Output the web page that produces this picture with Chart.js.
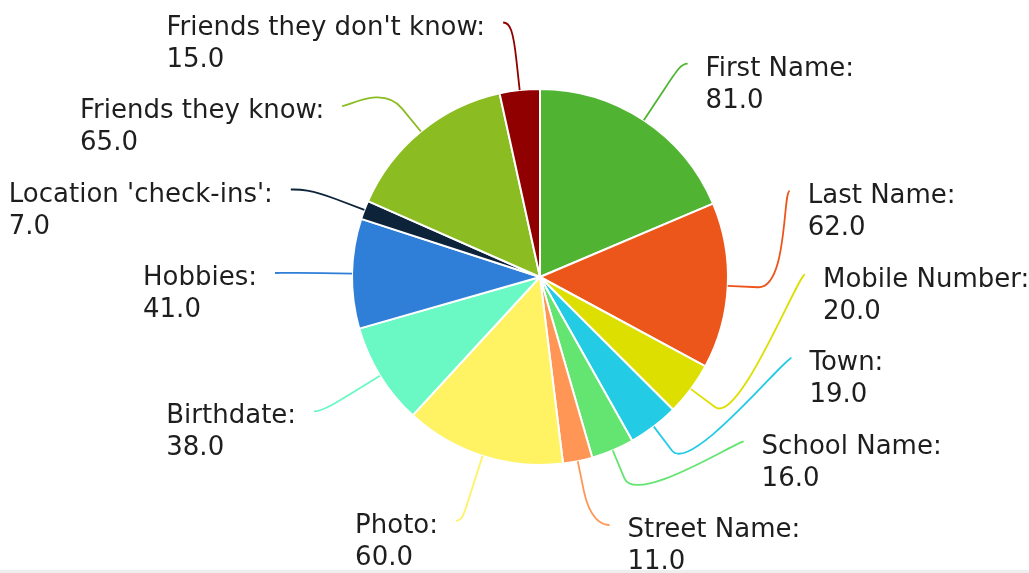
<!DOCTYPE html>
<html>
<head>
<meta charset="utf-8">
<script src="https://cdn.jsdelivr.net/npm/chart.js@4/dist/chart.umd.min.js"></script>
<style>
  html, body { margin: 0; padding: 0; background: #ffffff; }
  #wrap { width: 1029px; height: 573px; }
</style>
</head>
<body>
<div id="wrap"><canvas id="c" width="1029" height="573"></canvas></div>
<script>
const categories = ["First Name", "Last Name", "Mobile Number", "Town", "School Name", "Street Name",
                    "Photo", "Birthdate", "Hobbies", "Location 'check-ins'", "Friends they know", "Friends they don't know"];
const values = [81, 62, 20, 19, 16, 11, 60, 38, 41, 7, 65, 15];
const colors = ["#50B432", "#ED561B", "#DDDF00", "#24CBE5", "#64E572", "#FF9655",
                "#FFF263", "#6AF9C4", "#2f7ed8", "#0d233a", "#8bbc21", "#910000"];

const FONT = '26px "DejaVu Sans", Verdana, sans-serif';

const bgPlugin = {
  id: 'bg',
  beforeDraw(chart) {
    const ctx = chart.ctx;
    ctx.save();
    ctx.fillStyle = '#ffffff';
    ctx.fillRect(0, 0, chart.width, chart.height);
    ctx.fillStyle = '#eeeeee';
    ctx.fillRect(0, chart.height - 3, chart.width, 3);
    ctx.restore();
  }
};

const outLabels = {
  id: 'outLabels',
  afterDatasetsDraw(chart) {
    const ctx = chart.ctx;
    const meta = chart.getDatasetMeta(0);
    const data = chart.data.datasets[0].data;
    const labels = chart.data.labels;
    const bg = chart.data.datasets[0].backgroundColor;
    const slotH = 83.5;
    const items = meta.data.map((arc, i) => {
      const p = arc.getProps(['x', 'y', 'startAngle', 'endAngle', 'outerRadius'], true);
      const mid = (p.startAngle + p.endAngle) / 2;
      const left = mid > Math.PI / 2 && mid < 3 * Math.PI / 2;
      const r = p.outerRadius;
      return {
        i, mid, left, cx: p.x, cy: p.y, r,
        naturalY: p.y + Math.sin(mid) * (r + 68),
        y: 0
      };
    });
    const top = 20, bottom = 525;
    [false, true].forEach(side => {
      const list = items.filter(it => it.left === side).sort((a, b) => a.naturalY - b.naturalY);
      let prev = -Infinity;
      list.forEach(it => { it.y = Math.max(it.naturalY, prev + slotH, top); prev = it.y; });
      let next = Infinity;
      for (let k = list.length - 1; k >= 0; k--) {
        const it = list[k];
        it.y = Math.min(it.y, next - slotH, bottom);
        next = it.y;
      }
    });
    ctx.save();
    ctx.font = FONT;
    ctx.textBaseline = 'alphabetic';
    items.forEach(it => {
      const { cx, cy, r, mid, left } = it;
      const a = r + 77, b = r + 69;
      const dy = it.y - cy;
      const dx = a * Math.sqrt(Math.max(0, 1 - (dy / b) * (dy / b)));
      const xe = left ? cx - dx : cx + dx;
      const ex = cx + Math.cos(mid) * r, ey = cy + Math.sin(mid) * r;
      const bx = cx + Math.cos(mid) * (r + 30), by = cy + Math.sin(mid) * (r + 30);
      // connector
      ctx.beginPath();
      ctx.strokeStyle = bg[it.i];
      ctx.lineWidth = 1.8;
      ctx.moveTo(xe, it.y);
      ctx.bezierCurveTo(xe + (left ? 7 : -7), it.y, 2 * bx - ex, 2 * by - ey, bx, by);
      ctx.lineTo(ex, ey);
      ctx.stroke();
      // label
      const line1 = labels[it.i] + ':';
      const line2 = Number(data[it.i]).toFixed(1);
      const w = Math.max(ctx.measureText(line1).width, ctx.measureText(line2).width);
      const tx = left ? xe - 18 - w : xe + 18;
      ctx.fillStyle = '#1e1e1e';
      ctx.textAlign = 'left';
      ctx.fillText(line1, tx, it.y + 12);
      ctx.fillText(line2, tx, it.y + 44);
    });
    ctx.restore();
  }
};

new Chart(document.getElementById('c'), {
  type: 'pie',
  data: {
    labels: categories,
    datasets: [{
      data: values,
      backgroundColor: colors,
      borderColor: '#ffffff',
      borderWidth: 2
    }]
  },
  options: {
    responsive: false,
    animation: false,
    radius: 188,
    layout: { padding: { left: 51, right: 0, top: 0, bottom: 19 } },
    plugins: {
      legend: { display: false },
      tooltip: { enabled: false },
      title: { display: false }
    }
  },
  plugins: [bgPlugin, outLabels]
});
</script>
</body>
</html>
